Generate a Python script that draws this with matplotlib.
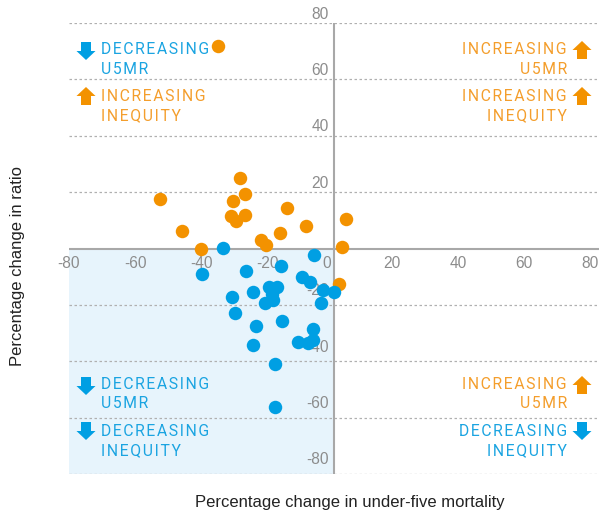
import matplotlib
matplotlib.use("Agg")
import matplotlib.pyplot as plt
from matplotlib.patches import Polygon, Rectangle

# change in under-five mortality (x) vs change in rich/poor ratio (y), %
inc_x = [-35.1, -52.4, -45.9, -40.3, -28.4, -26.9, -30.4, -31.1, -26.9, -29.6,
         -21.9, -20.5, -16.3, -14.1, -8.5, 2.3, 3.5, 1.5]
inc_y = [71.7, 17.7, 6.4, 0.0, 25.0, 19.4, 16.9, 11.5, 12.1, 9.7,
         3.2, 1.4, 5.5, 14.4, 7.9, 0.6, 10.4, -12.4]

dec_x = [-33.6, -5.9, -40.0, -26.6, -15.9, -9.7, -7.3, -3.2, 0.0, -3.8,
         -19.5, -17.1, -18.8, -20.8, -18.3, -24.4, -30.8, -30.0, -15.7, -23.6,
         -6.4, -10.8, -7.8, -6.3, -24.4, -17.8, -17.8]
dec_y = [0.3, -2.4, -8.9, -8.0, -6.3, -10.2, -11.9, -14.5, -15.3, -19.2,
         -13.6, -13.6, -16.0, -19.1, -18.1, -15.4, -17.2, -22.7, -25.8, -27.6,
         -28.4, -33.0, -33.4, -32.5, -34.0, -40.8, -56.2]

ticks = [-80, -60, -40, -20, 0, 20, 40, 60, 80]

ORANGE = "#f39200"
BLUE = "#009fe3"
ORANGE_TXT = "#f49e2c"
BLUE_TXT = "#1ba4e1"
GREY = "#8c8c8c"
FONT = "Liberation Sans"
KEY_FONT = ["Roboto", "DejaVu Sans"]

W, H = 599, 513
fig = plt.figure(figsize=(W / 100, H / 100), dpi=100)
ax = fig.add_axes([69 / W, 1 - 474.3 / H, 530 / W, 451.3 / H])
ax.set_xlim(-80, 80)
ax.set_ylim(-80, 80)
ax.axis("off")


def px(x, y):
    # pixel position (from top-left) -> figure fraction
    return x / W, 1 - y / H


# shaded quadrant: both falling
ax.add_patch(Rectangle((-80, -80), 80, 80, color="#e7f4fc", lw=0, zorder=0))

for t in ticks:
    if t != 0:
        ax.axhline(t, color="#b0b0b0", lw=0.9, ls=(0, (2, 2)), zorder=1)
ax.axhline(0, color="#a8a8a8", lw=1.5, zorder=1)
ax.axvline(0, color="#a8a8a8", lw=1.5, zorder=1)

# tick labels
for t in ticks:
    if t < 0:
        ax.annotate(str(t), (t, 0), xytext=(0, -5), textcoords="offset points",
                    ha="center", va="top", color=GREY, fontsize=11.2,
                    family=FONT, zorder=2)
    else:
        ax.annotate(str(t), (t, 0), xytext=(-2 if t == 0 else 0, -5),
                    textcoords="offset points", ha="right", va="top",
                    color=GREY, fontsize=11.2, family=FONT, zorder=2)
    if t != 0:
        ax.annotate(str(t), (0, t), xytext=(-4, 1 if t > 0 else 5),
                    textcoords="offset points", ha="right", va="bottom",
                    color=GREY, fontsize=11.2, family=FONT, zorder=2)

ax.scatter(inc_x, inc_y, s=94, color=ORANGE, lw=0, zorder=3)
ax.scatter(dec_x, dec_y, s=94, color=BLUE, lw=0, zorder=4)

fig.text(*px(350, 507), "Percentage change in under-five mortality",
         ha="center", va="baseline", fontsize=12, family=FONT, color="#222222")
fig.text(*px(18, 266), "Percentage change in ratio", rotation=90,
         ha="center", va="center", fontsize=12, family=FONT, color="#222222")


def block_arrow(cx, top, up, color):
    # arrow 19px wide, 18px tall, head on top or bottom
    w, h, sw, hh = 19, 18, 10, 9
    if up:
        pts = [(cx, top), (cx + w / 2, top + hh), (cx + sw / 2, top + hh),
               (cx + sw / 2, top + h), (cx - sw / 2, top + h),
               (cx - sw / 2, top + hh), (cx - w / 2, top + hh)]
    else:
        pts = [(cx - sw / 2, top), (cx + sw / 2, top), (cx + sw / 2, top + h - hh),
               (cx + w / 2, top + h - hh), (cx, top + h), (cx - w / 2, top + h - hh),
               (cx - sw / 2, top + h - hh)]
    fig.patches.append(Polygon([px(x, y) for x, y in pts], closed=True,
                               transform=fig.transFigure, color=color, lw=0))


def label(x, y, lines, color, ha):
    # spaced-out capitals, hair space between letters
    for i, s in enumerate(lines):
        fig.text(*px(x, y + 19.5 * i), "\u200a".join(s), ha=ha, va="baseline",
                 color=color, fontsize=11.3, family=KEY_FONT)


# quadrant keys
block_arrow(86, 42, False, BLUE)
label(101, 54.5, ["DECREASING", "U5MR"], BLUE_TXT, "left")
block_arrow(86, 87, True, ORANGE)
label(101, 101, ["INCREASING", "INEQUITY"], ORANGE_TXT, "left")

block_arrow(582, 41, True, ORANGE)
label(567, 54.5, ["INCREASING", "U5MR"], ORANGE_TXT, "right")
block_arrow(582, 87, True, ORANGE)
label(567, 101, ["INCREASING", "INEQUITY"], ORANGE_TXT, "right")

block_arrow(86, 377, False, BLUE)
label(101, 389, ["DECREASING", "U5MR"], BLUE_TXT, "left")
block_arrow(86, 422, False, BLUE)
label(101, 436, ["DECREASING", "INEQUITY"], BLUE_TXT, "left")

block_arrow(582, 376, True, ORANGE)
label(567, 389, ["INCREASING", "U5MR"], ORANGE_TXT, "right")
block_arrow(582, 422, False, BLUE)
label(567, 436, ["DECREASING", "INEQUITY"], BLUE_TXT, "right")

fig.savefig("out.png", dpi=100)
